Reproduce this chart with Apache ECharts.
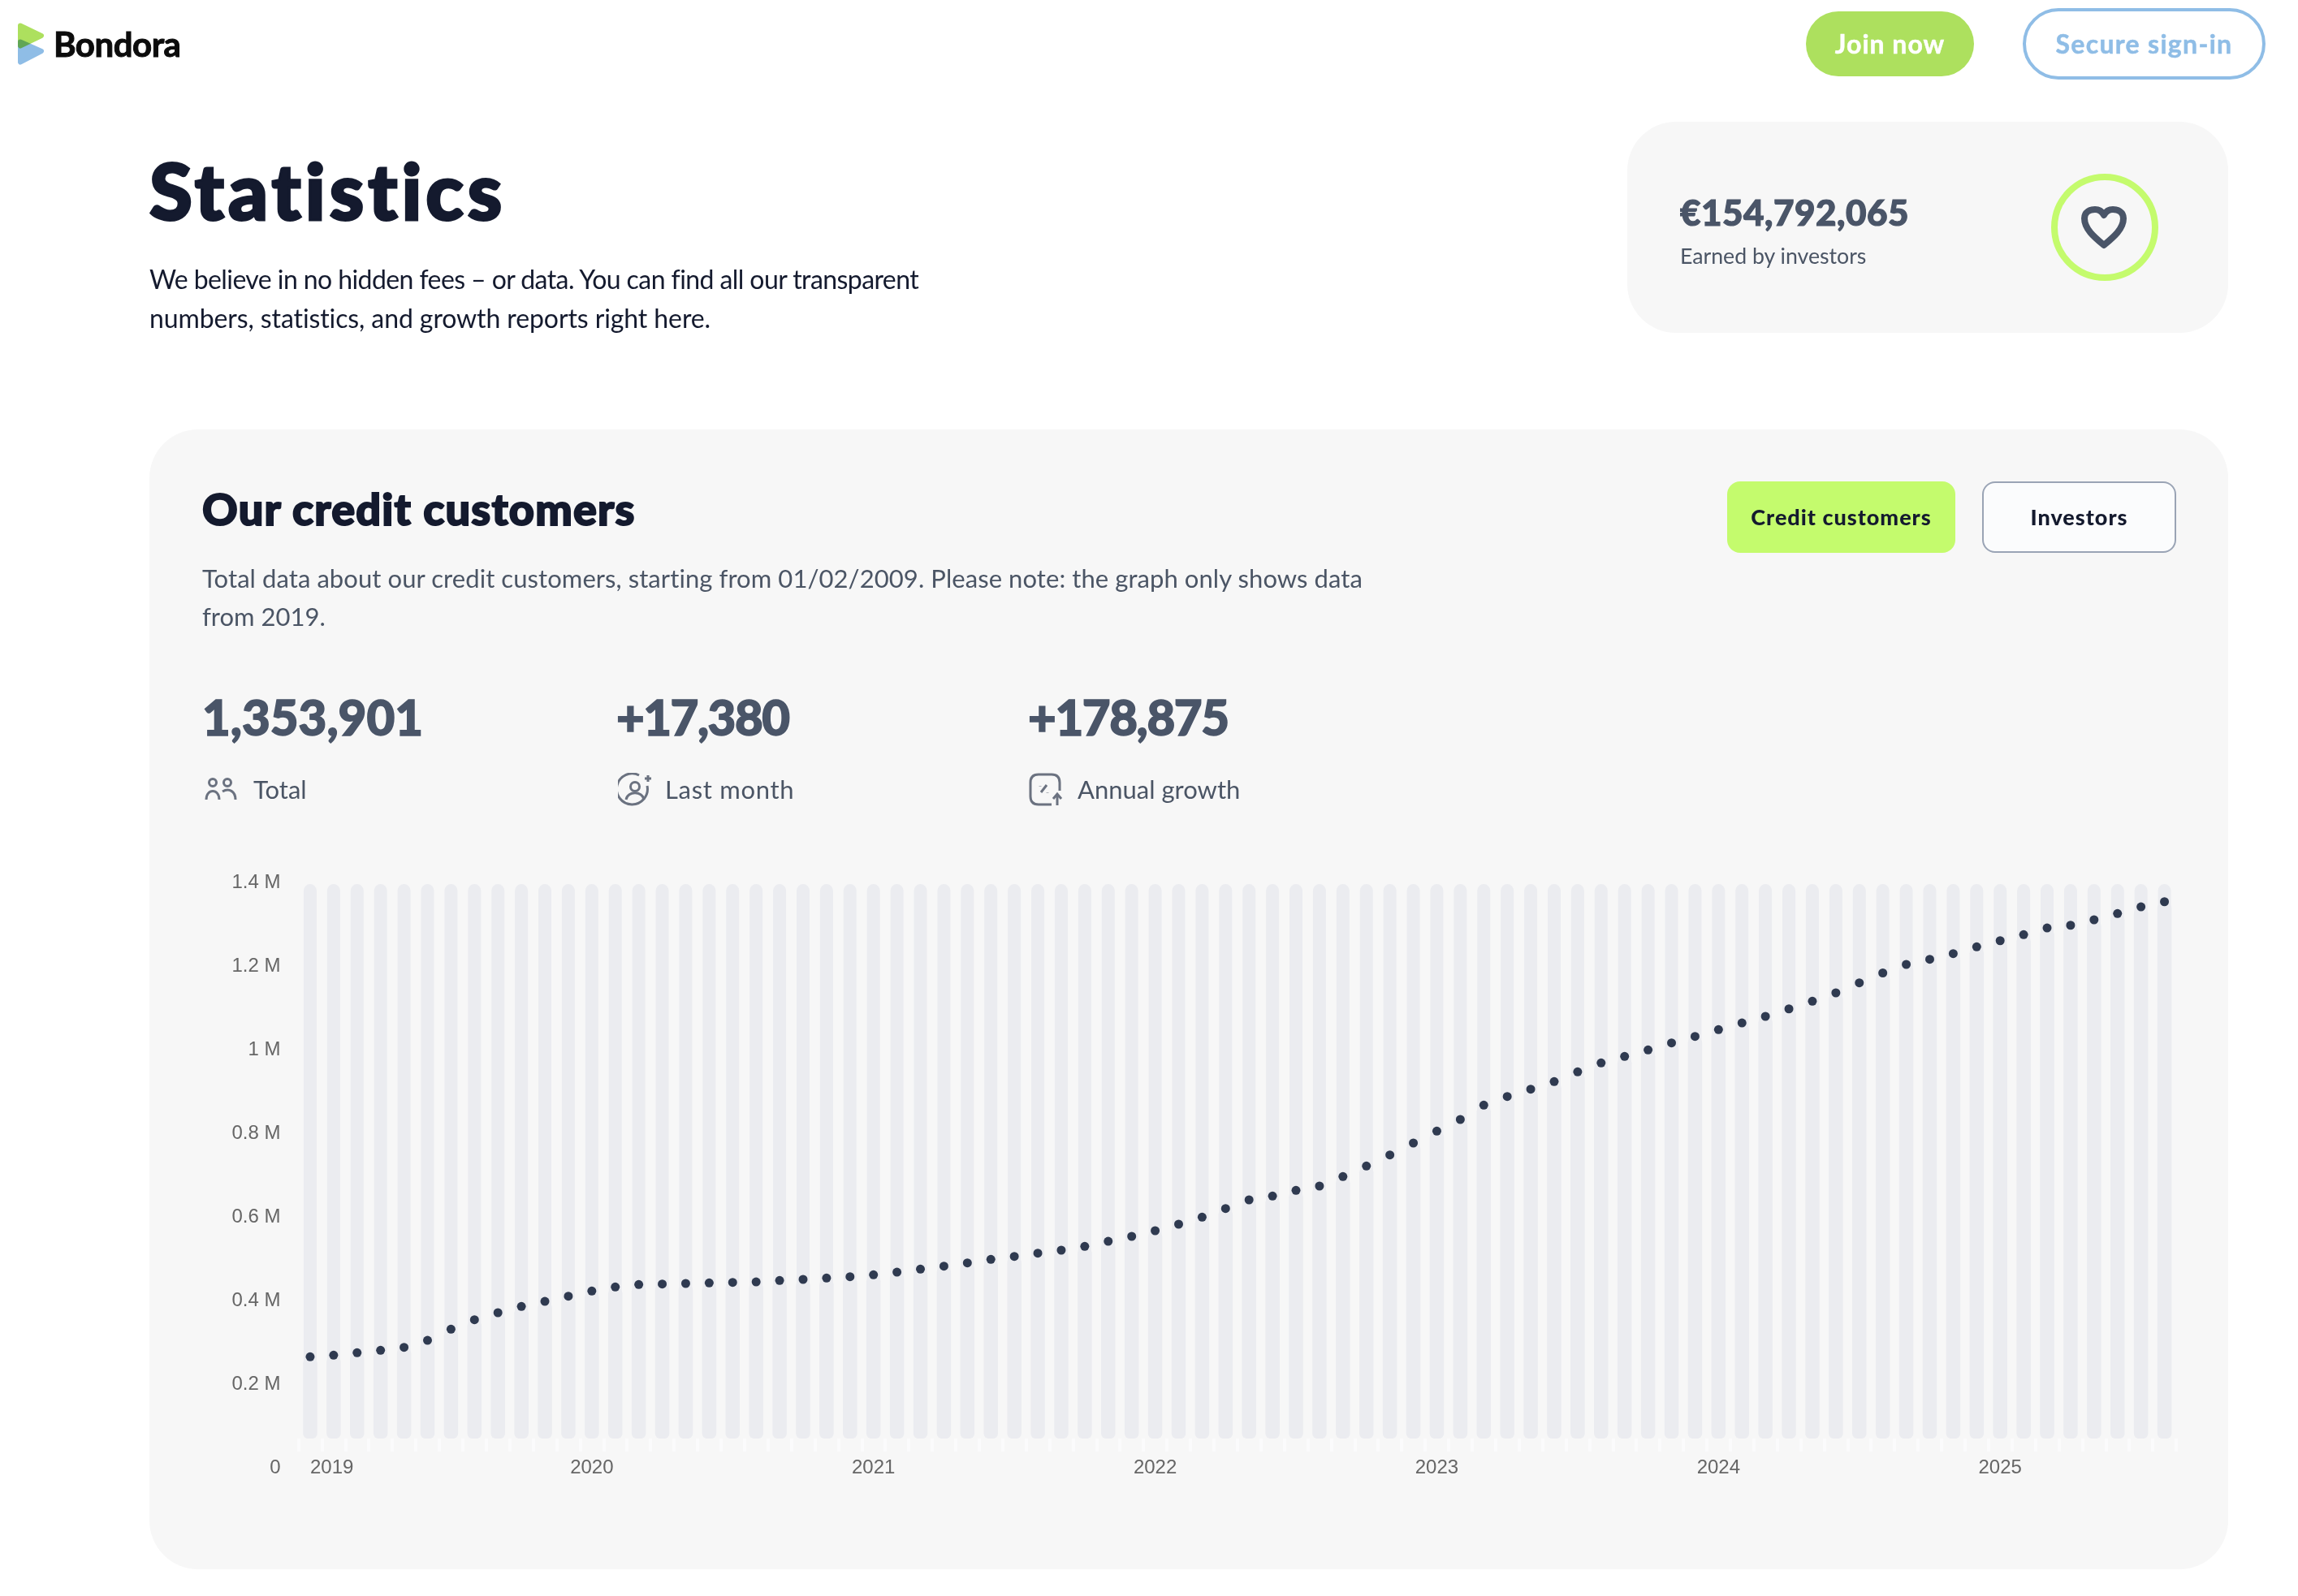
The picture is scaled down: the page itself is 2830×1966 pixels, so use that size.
<!DOCTYPE html>
<html>
<head>
<meta charset="utf-8">
<title>Statistics</title>
<script src="https://cdn.jsdelivr.net/npm/echarts@6/dist/echarts.min.js"></script>
<style>
  html, body { margin: 0; padding: 0; background: #fff; }
  #page { position: relative; width: 2830px; height: 1966px; overflow: hidden; font-family: Lato, sans-serif; }
  #page > div, #page > svg { position: absolute; }
  .t { white-space: nowrap; line-height: 1; }
  .panel { background: #f7f7f7; border-radius: 60px; }
  .big { font-weight: 900; color: #4a5568; font-size: 60px; -webkit-text-stroke: 1.5px #4a5568; }
  .lab { font-size: 31px; color: #4b5565; }
  #main { left: 0; top: 0; width: 2830px; height: 1966px; }
</style>
</head>
<body>
<div id="page">
  <svg style="left:20px;top:26px" width="38" height="56" viewBox="0 0 38 56" stroke-linejoin="round" stroke-width="6">
    <polygon points="5,5.5 31,18 5,30.5" fill="#ade05e" stroke="#ade05e"/>
    <polygon points="5,25.5 31,37 5,50.5" fill="#8fbde6" stroke="#8fbde6" style="mix-blend-mode:multiply"/>
  </svg>
  <div class="t" style="left:66px;top:33px;font-size:42px;font-weight:700;color:#0c0c0c;letter-spacing:-0.5px;-webkit-text-stroke:1px #0c0c0c">Bondora</div>

  <div style="left:2224px;top:14px;width:207px;height:80px;border-radius:40px;background:#ade05e"></div>
  <div class="t" style="left:2224px;top:38px;width:207px;text-align:center;font-size:32px;font-weight:700;color:#fff;letter-spacing:1px;-webkit-text-stroke:0.5px #fff">Join now</div>
  <div style="left:2491px;top:10px;width:291px;height:80px;border-radius:44px;border:4px solid #8fbde6;background:#fff"></div>
  <div class="t" style="left:2491px;top:38px;width:299px;text-align:center;font-size:32px;font-weight:700;color:#8fbde6;letter-spacing:1.3px;-webkit-text-stroke:0.5px #8fbde6">Secure sign-in</div>

  <div class="t" style="left:184px;top:186px;font-size:96px;font-weight:900;color:#141a2e;letter-spacing:5px;-webkit-text-stroke:3px #141a2e">Statistics</div>
  <div class="t" style="left:184px;top:328px;font-size:32px;color:#141a2e;letter-spacing:-0.58px">We believe in no hidden fees – or data. You can find all our transparent</div>
  <div class="t" style="left:184px;top:376px;font-size:32px;color:#141a2e;letter-spacing:-0.1px">numbers, statistics, and growth reports right here.</div>

  <div class="panel" style="left:2004px;top:150px;width:740px;height:260px"></div>
  <div class="t" style="left:2069px;top:239px;font-size:44px;font-weight:900;color:#4a5568;letter-spacing:0.5px;-webkit-text-stroke:1.2px #4a5568">€154,792,065</div>
  <div class="t" style="left:2069px;top:302px;font-size:26.7px;color:#4b5565">Earned by investors</div>
  <svg style="left:2526px;top:214px" width="132" height="132" viewBox="0 0 132 132">
    <circle cx="66" cy="66" r="62" fill="none" stroke="#c4fb6d" stroke-width="8"/>
    <path d="M65 88 C53 78 41 68 41 55 C41 47 48 44 54 44 C59 44 63 47 65 51 C67 47 71 44 76 44 C82 44 89 47 89 55 C89 68 77 78 65 88 Z" fill="none" stroke="#4a5568" stroke-width="8" stroke-linejoin="round"/>
  </svg>

  <div class="panel" style="left:184px;top:529px;width:2560px;height:1404px"></div>
  <div class="t" style="left:249px;top:600px;font-size:54px;font-weight:900;color:#141a2e;letter-spacing:1.2px;-webkit-text-stroke:2px #141a2e">Our credit customers</div>
  <div class="t" style="left:249px;top:697px;font-size:31px;color:#4b5565;letter-spacing:0.07px">Total data about our credit customers, starting from 01/02/2009. Please note: the graph only shows data</div>
  <div class="t" style="left:249px;top:744px;font-size:31px;color:#4b5565">from 2019.</div>

  <div style="left:2127px;top:593px;width:281px;height:88px;border-radius:16px;background:#c4fb6d"></div>
  <div class="t" style="left:2127px;top:623px;width:281px;text-align:center;font-size:27px;font-weight:900;color:#141a2e;letter-spacing:1px">Credit customers</div>
  <div style="left:2441px;top:593px;width:235px;height:84px;border-radius:16px;border:2px solid #9aa4b5;background:#fbfcfd"></div>
  <div class="t" style="left:2441px;top:623px;width:239px;text-align:center;font-size:27px;font-weight:900;color:#141a2e;letter-spacing:1px">Investors</div>

  <div class="t big" style="left:249px;top:853px">1,353,901</div>
  <div class="t big" style="left:759px;top:853px;letter-spacing:-1.5px">+17,380</div>
  <div class="t big" style="left:1266px;top:853px;letter-spacing:-1.4px">+178,875</div>

  <svg style="left:252px;top:957px" width="40" height="32" viewBox="0 0 40 32" fill="none" stroke="#6b7280" stroke-width="3">
    <circle cx="10" cy="7" r="4.5"/><circle cx="28" cy="7" r="4.5"/>
    <path d="M2 28 C2 14 18 14 18 28"/><path d="M22 18 C30 13 38 18 38 28"/>
  </svg>
  <div class="t lab" style="left:312px;top:957px">Total</div>
  <svg style="left:761px;top:952px" width="44" height="42" viewBox="0 0 44 42" fill="none" stroke="#6b7280" stroke-width="3">
    <path d="M36 16 A19 19 0 1 1 26 3"/>
    <circle cx="21" cy="17" r="5.5"/><path d="M10 33 C12 22 30 22 32 33"/>
    <path d="M37 3 V11 M33 7 H41"/>
  </svg>
  <div class="t lab" style="left:819px;top:957px;letter-spacing:0.7px">Last month</div>
  <svg style="left:1267px;top:952px" width="44" height="42" viewBox="0 0 44 42" fill="none" stroke="#6b7280" stroke-width="3">
    <path d="M28 39 H12 Q2 39 2 29 V12 Q2 2 12 2 H28 Q38 2 38 12 V22"/>
    <path d="M15 24 L22 15 M14 16 V16.5 M23 24 V24.5"/>
    <path d="M35 40 V28 M30 32 L35 26 L40 32"/>
  </svg>
  <div class="t lab" style="left:1327px;top:957px">Annual growth</div>

  <div id="main"></div>
</div>
<script>
var months = [
  '2019-01','2019-02','2019-03','2019-04','2019-05','2019-06','2019-07','2019-08','2019-09','2019-10','2019-11','2019-12',
  '2020-01','2020-02','2020-03','2020-04','2020-05','2020-06','2020-07','2020-08','2020-09','2020-10','2020-11','2020-12',
  '2021-01','2021-02','2021-03','2021-04','2021-05','2021-06','2021-07','2021-08','2021-09','2021-10','2021-11','2021-12',
  '2022-01','2022-02','2022-03','2022-04','2022-05','2022-06','2022-07','2022-08','2022-09','2022-10','2022-11','2022-12',
  '2023-01','2023-02','2023-03','2023-04','2023-05','2023-06','2023-07','2023-08','2023-09','2023-10','2023-11','2023-12',
  '2024-01','2024-02','2024-03','2024-04','2024-05','2024-06','2024-07','2024-08','2024-09','2024-10','2024-11','2024-12',
  '2025-01','2025-02','2025-03','2025-04','2025-05','2025-06','2025-07','2025-08'
];
// customers
var customers = [
  265400,269300,275100,281000,288000,304800,331400,354000,370900,385800,398000,410300,
  422700,432400,438200,439400,440800,442100,443300,444600,447900,450500,453800,456900,
  461500,467900,475100,482100,489900,498400,505400,513200,520400,529500,541700,553400,
  567000,582500,599400,620000,640800,649900,663500,673800,696500,721700,748100,776700,
  805200,833000,867400,887900,905400,923700,947000,968300,983900,999400,1016100,1031600,
  1047900,1064000,1079600,1097600,1115900,1135900,1159800,1183500,1203900,1216100,1229700,1246000,
  1260700,1275100,1291200,1297600,1310700,1325600,1341700,1353901
];
var yMax = 1400000;
var yStep = 200000;
// grey columns stop short of the axis ends
var bandFloor = 70000;
var bandTop = 1396000;

var chart = echarts.init(document.getElementById('main'), null, {renderer: 'canvas'});

var floorData = months.map(function(){ return bandFloor; });
var trackData = months.map(function(){ return bandTop - bandFloor; });
var fillData = customers.map(function(v){ return v - bandFloor; });
var barColor = '#ebecf0';

chart.setOption({
  animation: false,
  grid: {left: 367.5, top: 1087, width: 2312.5, height: 721, containLabel: false},
  xAxis: [{
    type: 'category',
    data: months,
    offset: -36,
    axisLine: {show: false},
    axisTick: {show: true, interval: 0, length: 16, lineStyle: {color: '#fbfbfc', width: 4}},
    axisLabel: {
      interval: function(i){ return i % 12 === 0; },
      formatter: function(v){ return v.slice(0, 4); },
      alignMinLabel: 'left',
      margin: 24,
      fontFamily: 'Liberation Sans',
      fontSize: 24,
      color: '#666'
    }
  }, {
    type: 'category',
    data: months,
    show: false
  }],
  yAxis: {
    type: 'value',
    min: 0,
    max: yMax,
    interval: yStep,
    axisLine: {show: false},
    axisTick: {show: false},
    splitLine: {show: false},
    axisLabel: {
      margin: 22,
      formatter: function(v){ return v === 0 ? '0' : (v / 1000000) + ' M'; },
      fontFamily: 'Liberation Sans',
      fontSize: 24,
      color: '#666'
    }
  },
  series: [
    {type: 'bar', stack: 'track', xAxisIndex: 0, barWidth: 16, data: floorData, itemStyle: {color: 'transparent'}, silent: true},
    {type: 'bar', stack: 'track', xAxisIndex: 0, barWidth: 16, data: trackData, itemStyle: {color: barColor, borderRadius: [8, 8, 6, 6]}, silent: true},
    {type: 'bar', stack: 'fill', xAxisIndex: 1, barWidth: 17.5, data: floorData, itemStyle: {color: 'transparent'}, silent: true},
    {type: 'bar', stack: 'fill', xAxisIndex: 1, barWidth: 17.5, data: fillData, itemStyle: {color: barColor, borderRadius: [8, 8, 6, 6]}, silent: true},
    {type: 'scatter', xAxisIndex: 0, data: customers, symbol: 'circle', symbolSize: 11, itemStyle: {color: '#2f3a50', opacity: 1}, z: 5}
  ]
});
</script>
</body>
</html>
